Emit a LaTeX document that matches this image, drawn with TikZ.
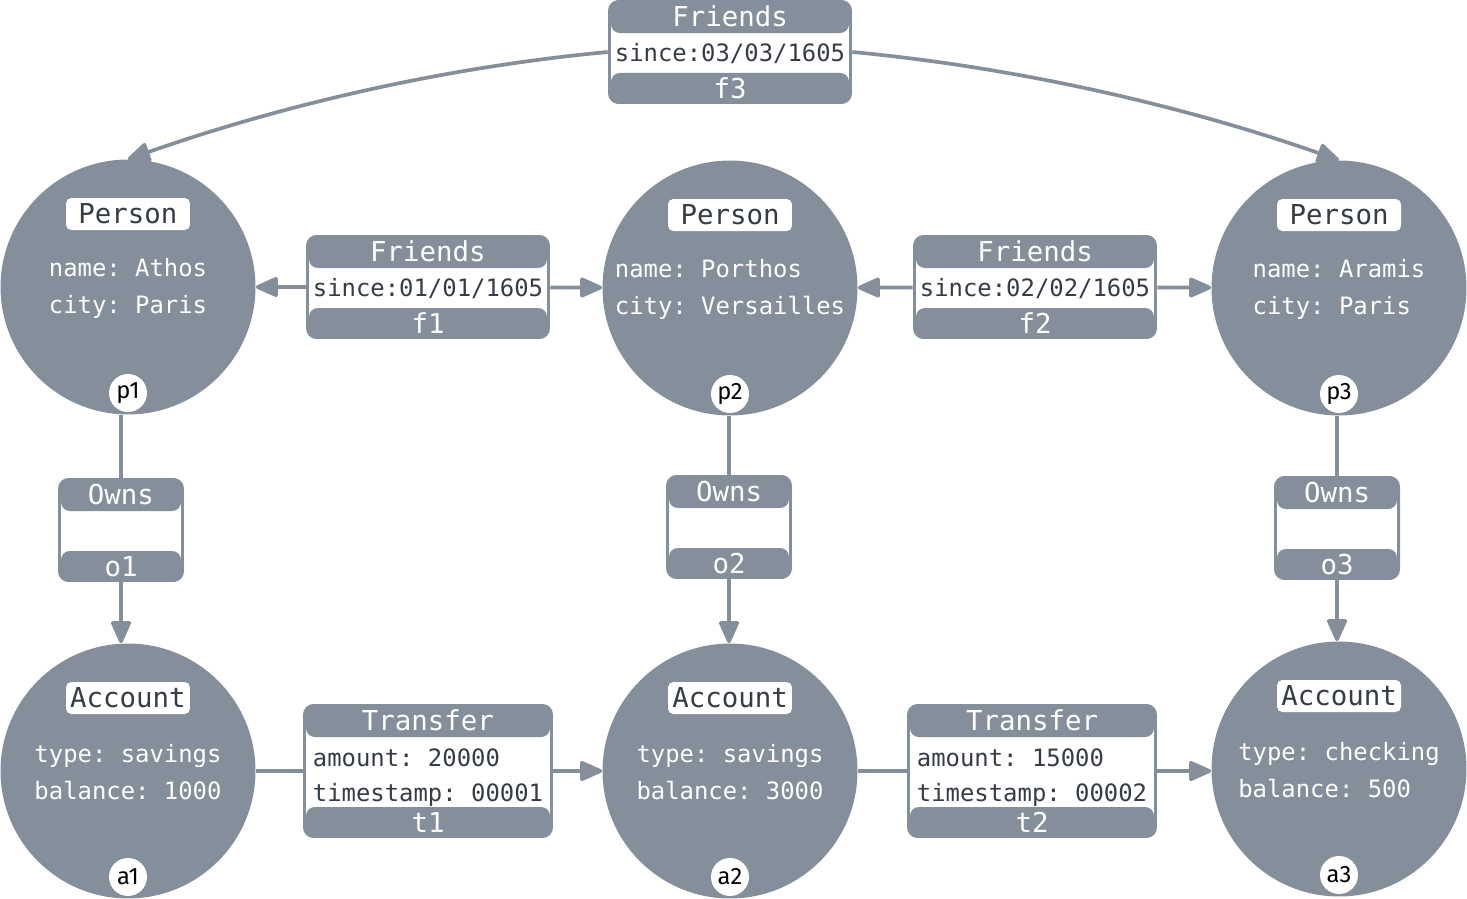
\documentclass[tikz,border=0pt]{standalone}
\usepackage{fontspec}
\setmonofont{DejaVu Sans Mono}
\newfontfamily\idfont{Fira Sans}
\usetikzlibrary{arrows.meta,positioning,calc}
\definecolor{nodegray}{RGB}{132,143,155}
\definecolor{labeltext}{RGB}{54,60,68}

% relationship box: [body shift], name, position, width, height, title, body
\newcommand{\relbox}[7][-0.04cm]{%
  \node[rel, minimum width=#4, minimum height=#5] (#2) at (#3) {};
  \fill[white] ([xshift=0.06cm,yshift=-0.34cm]#2.north west) rectangle ([xshift=-0.06cm,yshift=0.32cm]#2.south east);
  \node[band, minimum width=#4-0.12cm, minimum height=0.66cm, anchor=north] at (#2.north) {#6};
  \node[band, minimum width=#4-0.12cm, minimum height=0.62cm, anchor=south] at (#2.south) {#2};
  \node[body] at ([yshift=#1]#2.center) {#7};
}

\begin{document}
\begin{tikzpicture}[x=0.02cm, y=-0.02cm, >={Triangle[length=0.5cm,width=0.42cm,round]},
    entity/.style={circle, fill=nodegray, minimum size=5.1cm, inner sep=0pt},
    tag/.style={fill=white, rounded corners=3pt, minimum width=2.48cm, minimum height=0.64cm, inner sep=0pt, text=labeltext, font=\ttfamily\fontsize{15.6}{18}\selectfont},
    props/.style={align=left, text=white, inner sep=0pt, font=\ttfamily\fontsize{13.6}{21}\selectfont},
    idmark/.style={circle, fill=white, minimum size=0.76cm, inner sep=0pt, font=\idfont\fontsize{13.5}{14}\selectfont},
    rel/.style={fill=nodegray, rounded corners=6pt, inner sep=0pt},
    band/.style={fill=nodegray, rounded corners=5pt, inner sep=0pt, text=white, font=\ttfamily\fontsize{15.6}{18}\selectfont},
    body/.style={align=left, inner sep=0pt, text=labeltext, font=\ttfamily\fontsize{13.6}{20}\selectfont},
    link/.style={draw=nodegray, line width=2.1pt}]
  \useasboundingbox (0,0) rectangle (1467,899);

  % entities
  \foreach \n/\x/\y/\kind/\info in {
      p1/128/287/Person/{name: Athos\\city: Paris},
      p2/730/288/Person/{name: Porthos\\city: Versailles},
      p3/1339/288/Person/{name: Aramis\\city: Paris},
      a1/128/771/Account/{type: savings\\balance: 1000},
      a2/730/771/Account/{type: savings\\balance: 3000},
      a3/1339/769/Account/{type: checking\\balance: 500}} {
    \node[entity] (\n) at (\x,\y) {};
    \node[tag] at ([yshift=1.46cm]\n.center) {\kind};
    \node[props] at ([yshift=-0.03cm]\n.center) {\info};
    \node[idmark] at ([yshift=-2.12cm]\n.center) {\n};
  }

  % relationships
  \relbox{f1}{428,287}{4.88cm}{2.08cm}{Friends}{since:01/01/1605}
  \relbox{f2}{1035,287}{4.88cm}{2.08cm}{Friends}{since:02/02/1605}
  \relbox{f3}{730,52}{4.88cm}{2.08cm}{Friends}{since:03/03/1605}
  \relbox{o1}{121,530}{2.52cm}{2.08cm}{Owns}{}
  \relbox{o2}{729,527}{2.52cm}{2.08cm}{Owns}{}
  \relbox{o3}{1337,528}{2.52cm}{2.08cm}{Owns}{}
  \relbox[-0.13cm]{t1}{428,771}{5cm}{2.68cm}{Transfer}{amount: 20000\\timestamp: 00001}
  \relbox[-0.13cm]{t2}{1032,771}{5cm}{2.68cm}{Transfer}{amount: 15000\\timestamp: 00002}

  % connectors
  \draw[link,->] (f1) -- (p1);
  \draw[link,->] (f1) -- (p2);
  \draw[link,->] (f2) -- (p2);
  \draw[link,->] (f2) -- (p3);
  \draw[link,->] (f3.west) .. controls +(-160,15) and +(160,-56) .. (p1.north);
  \draw[link,->] (f3.east) .. controls +(160,15) and +(-160,-56) .. (p3.north);
  \foreach \o/\p/\a in {o1/p1/a1, o2/p2/a2, o3/p3/a3} {
    \draw[link] (\o.north) -- (\o.north |- \p.south);
    \draw[link,->] (\o.south) -- (\o.south |- \a.north);
  }
  \draw[link] (a1) -- (t1);
  \draw[link,->] (t1) -- (a2);
  \draw[link] (a2) -- (t2);
  \draw[link,->] (t2.east) -- (t2.east -| a3.west);
\end{tikzpicture}
\end{document}
